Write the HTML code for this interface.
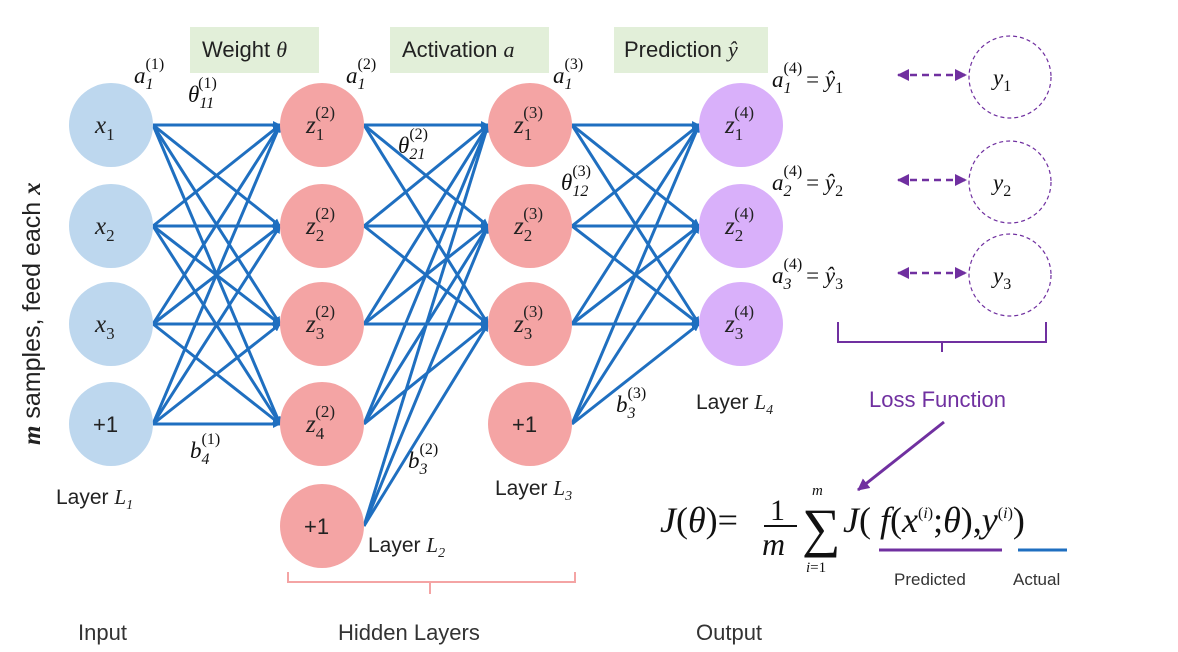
<!DOCTYPE html>
<html><head><meta charset="utf-8"><style>
body{margin:0;background:#fff;width:1178px;height:652px;overflow:hidden}
svg{display:block}
text{font-family:"Liberation Sans",sans-serif}
.m,.m text{font-family:"Liberation Serif",serif;font-style:italic}
.serif text{font-family:"Liberation Serif",serif}
</style></head><body>
<svg id="s" width="1178" height="652" viewBox="0 0 1178 652">
<defs><marker id="ar" markerWidth="8" markerHeight="8" refX="7" refY="4" orient="auto" markerUnits="userSpaceOnUse"><path d="M0,0 L8,4 L0,8 z" fill="#1f6fc0"/></marker>
<marker id="pa" markerWidth="12" markerHeight="12" refX="11" refY="6" orient="auto" markerUnits="userSpaceOnUse"><path d="M0,0 L12,6 L0,12 z" fill="#7030a0"/></marker>
<marker id="pb" markerWidth="12" markerHeight="12" refX="1" refY="6" orient="auto" markerUnits="userSpaceOnUse"><path d="M12,0 L0,6 L12,12 z" fill="#7030a0"/></marker></defs>
<g id="edges"></g><g id="nodes"></g>
<g>
<rect x="190" y="27" width="129" height="46" fill="#e2efd9"/><text x="202" y="57" font-size="22" fill="#222">Weight <tspan class="m">θ</tspan></text>
<rect x="390" y="27" width="159" height="46" fill="#e2efd9"/><text x="402" y="57" font-size="22" fill="#222">Activation <tspan class="m">a</tspan></text>
<rect x="614" y="27" width="154" height="46" fill="#e2efd9"/><text x="624" y="57" font-size="22" fill="#222">Prediction <tspan class="m">ŷ</tspan></text>
</g>
<g class="m" font-size="23" fill="#111">
<text x="134" y="83">a<tspan font-size="16" dy="6">1</tspan><tspan font-size="16" dx="-8" dy="-20" style="font-style:normal">(1)</tspan></text>
<text x="188" y="102">θ<tspan font-size="16" dy="6">11</tspan><tspan font-size="16" dx="-16" dy="-20" style="font-style:normal">(1)</tspan></text>
<text x="346" y="83">a<tspan font-size="16" dy="6">1</tspan><tspan font-size="16" dx="-8" dy="-20" style="font-style:normal">(2)</tspan></text>
<text x="398" y="153">θ<tspan font-size="16" dy="6">21</tspan><tspan font-size="16" dx="-16" dy="-20" style="font-style:normal">(2)</tspan></text>
<text x="553" y="83">a<tspan font-size="16" dy="6">1</tspan><tspan font-size="16" dx="-8" dy="-20" style="font-style:normal">(3)</tspan></text>
<text x="561" y="190">θ<tspan font-size="16" dy="6">12</tspan><tspan font-size="16" dx="-16" dy="-20" style="font-style:normal">(3)</tspan></text>
<text x="190" y="458">b<tspan font-size="16" dy="6">4</tspan><tspan font-size="16" dx="-8" dy="-20" style="font-style:normal">(1)</tspan></text>
<text x="408" y="468">b<tspan font-size="16" dy="6">3</tspan><tspan font-size="16" dx="-8" dy="-20" style="font-style:normal">(2)</tspan></text>
<text x="616" y="412">b<tspan font-size="16" dy="6">3</tspan><tspan font-size="16" dx="-8" dy="-20" style="font-style:normal">(3)</tspan></text>
<text x="772" y="87">a<tspan font-size="16" dy="6">1</tspan><tspan font-size="16" dx="-8" dy="-20" style="font-style:normal">(4)</tspan><tspan dx="4" dy="14" style="font-style:normal">= </tspan>ŷ<tspan font-size="16" dy="6" style="font-style:normal">1</tspan></text>
<text x="772" y="190">a<tspan font-size="16" dy="6">2</tspan><tspan font-size="16" dx="-8" dy="-20" style="font-style:normal">(4)</tspan><tspan dx="4" dy="14" style="font-style:normal">= </tspan>ŷ<tspan font-size="16" dy="6" style="font-style:normal">2</tspan></text>
<text x="772" y="283">a<tspan font-size="16" dy="6">3</tspan><tspan font-size="16" dx="-8" dy="-20" style="font-style:normal">(4)</tspan><tspan dx="4" dy="14" style="font-style:normal">= </tspan>ŷ<tspan font-size="16" dy="6" style="font-style:normal">3</tspan></text>
</g>
<g fill="none" stroke="#7030a0" stroke-dasharray="4,3" stroke-width="1.2">
<circle cx="1010" cy="77" r="41"/><circle cx="1010" cy="182" r="41"/><circle cx="1010" cy="275" r="41"/></g>
<g class="m" font-size="23" fill="#111"><text x="993" y="85">y<tspan font-size="16" dy="6" style="font-style:normal">1</tspan></text><text x="993" y="190">y<tspan font-size="16" dy="6" style="font-style:normal">2</tspan></text><text x="993" y="283">y<tspan font-size="16" dy="6" style="font-style:normal">3</tspan></text></g>
<g stroke="#7030a0" stroke-width="2.5" stroke-dasharray="7,5">
<line x1="898" y1="75" x2="966" y2="75" marker-start="url(#pb)" marker-end="url(#pa)"/>
<line x1="898" y1="180" x2="966" y2="180" marker-start="url(#pb)" marker-end="url(#pa)"/>
<line x1="898" y1="273" x2="966" y2="273" marker-start="url(#pb)" marker-end="url(#pa)"/></g>
<path d="M838,322 V342 H942 V352 M942,342 H1046 V322" fill="none" stroke="#7030a0" stroke-width="2"/>
<text x="869" y="407" font-size="22" fill="#7030a0">Loss Function</text>
<line x1="944" y1="422" x2="858" y2="490" stroke="#7030a0" stroke-width="3" marker-end="url(#pa)"/>
<g class="serif" fill="#111">
<text x="660" y="532" font-size="36"><tspan font-style="italic">J</tspan>(<tspan font-style="italic">θ</tspan>)=</text>
<text x="770" y="520" font-size="30">1</text><line x1="764" y1="526" x2="797" y2="526" stroke="#111" stroke-width="2"/>
<text x="762" y="555" font-size="32" font-style="italic">m</text>
<text x="802" y="546" font-size="54">∑</text><text x="812" y="495" font-size="15" font-style="italic">m</text><text x="806" y="572" font-size="15"><tspan font-style="italic">i</tspan>=1</text>
<text x="843" y="532" font-size="36"><tspan font-style="italic">J</tspan>( <tspan font-style="italic">f</tspan>(<tspan font-style="italic">x</tspan><tspan font-size="16" dy="-14">(<tspan font-style="italic">i</tspan>)</tspan><tspan dy="14">;</tspan><tspan font-style="italic">θ</tspan>),<tspan font-style="italic">y</tspan><tspan font-size="16" dy="-14">(<tspan font-style="italic">i</tspan>)</tspan><tspan dy="14">)</tspan></text>
</g>
<line x1="879" y1="550" x2="1002" y2="550" stroke="#7030a0" stroke-width="3"/>
<line x1="1018" y1="550" x2="1067" y2="550" stroke="#1f6fc0" stroke-width="3"/>
<text x="894" y="585" font-size="17" fill="#333">Predicted</text><text x="1013" y="585" font-size="17" fill="#333">Actual</text>
<path d="M288,572 V582 H430 V594 M430,582 H575 V572" fill="none" stroke="#f4a4a4" stroke-width="2"/>
<g font-size="22" fill="#333"><text x="78" y="640">Input</text><text x="338" y="640">Hidden Layers</text><text x="696" y="640">Output</text></g>
<g font-size="21" fill="#222">
<text x="56" y="504">Layer <tspan class="m">L</tspan><tspan class="m" font-size="14" dy="5">1</tspan></text>
<text x="368" y="552">Layer <tspan class="m">L</tspan><tspan class="m" font-size="14" dy="5">2</tspan></text>
<text x="495" y="495">Layer <tspan class="m">L</tspan><tspan class="m" font-size="14" dy="5">3</tspan></text>
<text x="696" y="409">Layer <tspan class="m">L</tspan><tspan class="m" font-size="14" dy="5">4</tspan></text></g>
<text transform="translate(40,445) rotate(-90)" font-size="25" fill="#222"><tspan class="m" font-weight="bold">m</tspan> samples, feed each <tspan class="m" font-weight="bold">x</tspan></text>
</svg>
<script>
const layerX=[111,322,530,741];
const rowY=[125,226,324,424,526];
const layerSizes=[4,5,4,3];
const nodeLabels=[["x1","x2","x3","+1"],["z1(2)","z2(2)","z3(2)","z4(2)","+1"],["z1(3)","z2(3)","z3(3)","+1"],["z1(4)","z2(4)","z3(4)"]];
const fills=["#bdd7ee","#f4a4a4","#f4a4a4","#d9b0fa"];
const R=42,NS="http://www.w3.org/2000/svg";
const eg=document.getElementById('edges'),ng=document.getElementById('nodes');
function mk(t,a,p){const e=document.createElementNS(NS,t);for(const k in a)e.setAttribute(k,a[k]);p.appendChild(e);return e;}
for(let l=0;l<3;l++){const targets=nodeLabels[l+1].filter(s=>s!=="+1").length;
 for(let i=0;i<layerSizes[l];i++)for(let j=0;j<targets;j++){
  const e=mk('line',{x1:layerX[l]+R,y1:rowY[i],x2:layerX[l+1]-R,y2:rowY[j],stroke:'#1f6fc0','stroke-width':3,'marker-end':'url(#ar)'},eg);
  
  }}
for(let l=0;l<4;l++)for(let i=0;i<layerSizes[l];i++){
 const c=mk('circle',{cx:layerX[l],cy:rowY[i],r:R,fill:fills[l]},ng);
 
 
 const lab=nodeLabels[l][i];const t=mk('text',{x:layerX[l]-(lab==="+1"?18:16),y:rowY[i]+8,'font-size':lab==="+1"?22:25,fill:'#222'},ng);
 if(lab==="+1"){t.textContent="+1";}
 else{t.setAttribute('class','m');const b=lab[0],s=lab[1],sup=lab.slice(2);
  t.textContent=b;const a=mk('tspan',{'font-size':17,dy:7,style:'font-style:normal'},t);a.textContent=s;
  if(sup){const c2=mk('tspan',{'font-size':17,dx:-9,dy:-22,style:'font-style:normal'},t);c2.textContent=sup;}}}
</script>
</body></html>
